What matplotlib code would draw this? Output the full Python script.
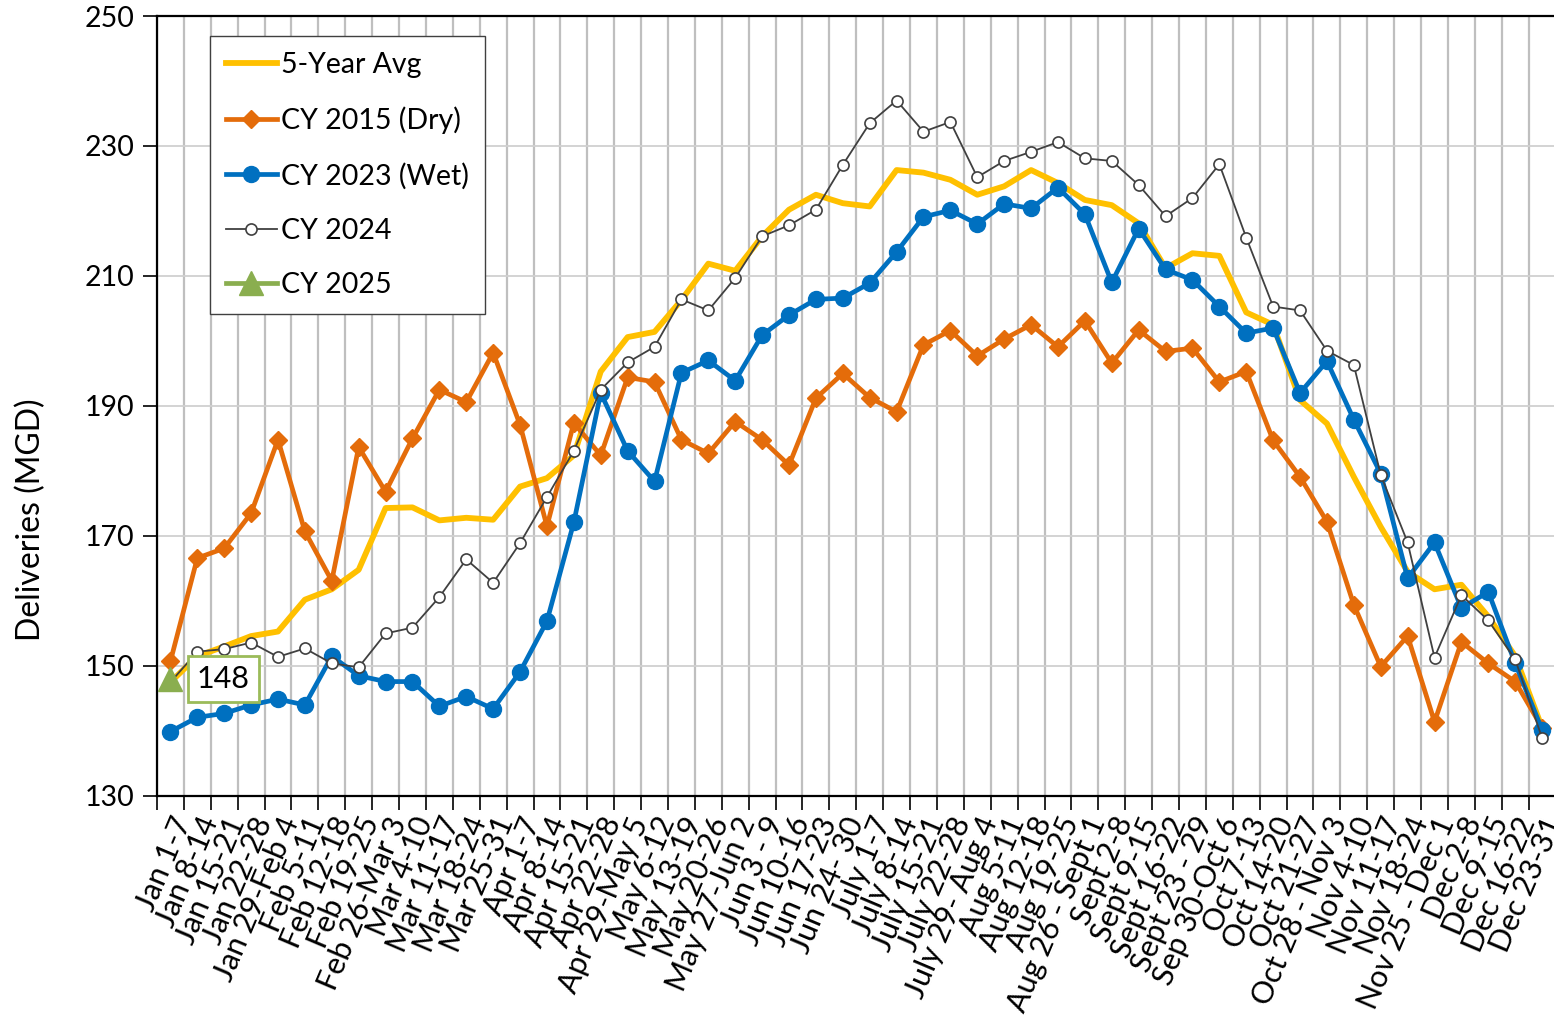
import matplotlib
matplotlib.use("Agg")
import matplotlib.pyplot as plt
import numpy as np

plt.rcParams['font.family'] = ['Lato', 'DejaVu Sans']

weeks = ['Jan 1-7', 'Jan 8-14', 'Jan 15-21', 'Jan 22-28', 'Jan 29-Feb 4', 'Feb 5-11',
         'Feb 12-18', 'Feb 19-25', 'Feb 26-Mar 3', 'Mar 4-10', 'Mar 11-17', 'Mar 18-24',
         'Mar 25-31', 'Apr 1-7', 'Apr 8-14', 'Apr 15-21', 'Apr 22-28', 'Apr 29-May 5',
         'May 6-12', 'May 13-19', 'May 20-26', 'May 27-Jun 2', 'Jun 3 - 9', 'Jun 10-16',
         'Jun 17-23', 'Jun 24- 30', 'July 1-7', 'July 8-14', 'July 15-21', 'July 22-28',
         'July 29- Aug 4', 'Aug 5-11', 'Aug 12-18', 'Aug 19-25', 'Aug 26 - Sept 1',
         'Sept 2-8', 'Sept 9-15', 'Sept 16-22', 'Sept 23 - 29', 'Sep 30-Oct 6', 'Oct 7-13',
         'Oct 14-20', 'Oct 21-27', 'Oct 28 - Nov 3', 'Nov 4-10', 'Nov 11-17', 'Nov 18-24',
         'Nov 25 - Dec 1', 'Dec 2-8', 'Dec 9-15', 'Dec 16-22', 'Dec 23-31']

avg_5yr = [147.5, 151.5, 153.0, 154.6, 155.3, 160.2, 161.8, 164.8, 174.3, 174.4,
           172.4, 172.8, 172.5, 177.6, 178.9, 182.4, 195.3, 200.6, 201.4, 206.3,
           211.9, 210.8, 216.1, 220.2, 222.5, 221.2, 220.7, 226.3, 225.9, 224.8,
           222.5, 223.8, 226.3, 224.3, 221.7, 220.9, 218.1, 211.2, 213.5, 213.1,
           204.4, 202.5, 190.9, 187.3, 179.1, 171.4, 164.5, 161.8, 162.5, 157.6,
           151.5, 140.5]
cy2015 = [150.7, 166.6, 168.1, 173.5, 184.8, 170.7, 163.1, 183.7, 176.8, 185.0,
          192.5, 190.6, 198.2, 187.1, 171.5, 187.4, 182.4, 194.4, 193.7, 184.8,
          182.7, 187.6, 184.8, 180.9, 191.2, 195.0, 191.3, 189.1, 199.4, 201.6,
          197.7, 200.3, 202.5, 199.1, 203.1, 196.6, 201.7, 198.4, 198.9, 193.7,
          195.3, 184.7, 179.1, 172.2, 159.4, 149.9, 154.6, 141.4, 153.7, 150.4,
          147.6, 140.5]
cy2023 = [139.9, 142.1, 142.7, 144.0, 144.9, 144.0, 151.5, 148.5, 147.6, 147.6,
          143.8, 145.3, 143.4, 149.1, 156.9, 172.1, 192.0, 183.1, 178.4, 195.1,
          197.0, 193.9, 200.9, 204.0, 206.4, 206.6, 208.9, 213.7, 219.1, 220.1,
          218.0, 221.1, 220.4, 223.6, 219.5, 209.0, 217.3, 211.0, 209.4, 205.3,
          201.2, 202.0, 192.0, 196.9, 187.9, 179.6, 163.5, 169.0, 158.9, 161.4,
          150.4, 140.2]
cy2024 = [147.5, 152.2, 152.6, 153.6, 151.4, 152.7, 150.4, 149.8, 155.0, 155.9,
          160.6, 166.4, 162.8, 168.9, 176.0, 183.1, 192.5, 196.7, 199.1, 206.4,
          204.7, 209.7, 216.1, 217.8, 220.2, 227.1, 233.5, 237.0, 232.2, 233.7,
          225.2, 227.7, 229.1, 230.6, 228.1, 227.7, 224.0, 219.2, 222.0, 227.2,
          215.9, 205.3, 204.7, 198.5, 196.3, 179.4, 169.0, 151.3, 160.9, 157.0,
          151.0, 138.9]
cy2025 = [148]

x = np.arange(len(weeks))

fig = plt.figure(figsize=(15.54, 10.26), dpi=100)
ax = fig.add_axes([0.101, 0.2242, 0.9, 0.7602])

ax.plot(x, avg_5yr, color='#FFC000', lw=4.2, label='5-Year Avg', zorder=3)
ax.plot(x, cy2015, color='#E46C0A', lw=3.4, marker='D', ms=9.5, label='CY 2015 (Dry)', zorder=4)
ax.plot(x, cy2023, color='#0070C0', lw=3.4, marker='o', ms=11.5, label='CY 2023 (Wet)', zorder=5)
ax.plot(x, cy2024, color='#404040', lw=1.3, marker='o', ms=8, mfc='white', mec='#404040',
        mew=1.2, label='CY 2024', zorder=6)
ax.plot(x[:len(cy2025)], cy2025, color='#8AAE4F', lw=3.4, marker='^', ms=17, label='CY 2025', zorder=7)

# data label for the latest week
ax.annotate(str(cy2025[0]), xy=(0, cy2025[0]), xytext=(19, 0), textcoords='offset points',
            fontsize=22, va='center', ha='left', zorder=8,
            bbox=dict(boxstyle='square,pad=0.3', fc='white', ec='#9BBB59', lw=2))

ax.set_xlim(-0.5, len(weeks) - 0.5)
ax.set_ylim(130, 250)
ax.set_yticks(np.arange(130, 251, 20))
ax.set_xticks(x)
ax.set_xticklabels(weeks, rotation=67, ha='right', rotation_mode='anchor', fontsize=22)
ax.set_xticks(np.arange(-0.5, len(weeks), 1), minor=True)
ax.tick_params(axis='x', which='major', length=0, pad=12)
ax.tick_params(axis='x', which='minor', length=10, width=1.2, direction='out')
ax.tick_params(axis='y', labelsize=20.5, length=10, width=1.2, direction='out', pad=6)

ax.grid(axis='x', which='minor', color='#BFBFBF', lw=1.6)
ax.grid(axis='y', which='major', color='#D0D0D0', lw=1.3)
ax.set_axisbelow(True)

ax.spines['right'].set_visible(False)
for s in ['left', 'bottom', 'top']:
    ax.spines[s].set_linewidth(1.6)

ax.set_ylabel('Deliveries (MGD)', fontsize=23)
ax.yaxis.set_label_coords(-0.079, 0.354)

leg = ax.legend(loc='upper left', bbox_to_anchor=(0.038, 0.974), borderaxespad=0,
                fontsize=20.5, handlelength=1.8, handletextpad=0.15, labelspacing=1.0,
                borderpad=0.55, fancybox=False, framealpha=1, edgecolor='#404040')
leg.get_frame().set_linewidth(1.0)

fig.savefig('out.png', dpi=100)
